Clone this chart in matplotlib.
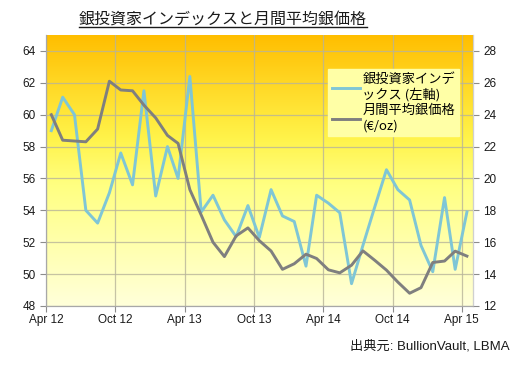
import numpy as np
import pandas as pd
import matplotlib
matplotlib.use("Agg")
import matplotlib.pyplot as plt
from matplotlib.colors import LinearSegmentedColormap

plt.rcParams['font.family'] = ['Liberation Sans', 'Noto Sans CJK JP', 'DejaVu Sans']

# monthly data, Apr 2012 - Apr 2015 (plotted mid-month)
months = pd.date_range('2012-04-01', periods=37, freq='MS') + pd.Timedelta(days=14)
index_vals = [59.0, 61.1, 60.0, 54.0, 53.2, 55.1, 57.6, 55.6, 61.5, 54.9,
              58.0, 56.0, 62.4, 53.9, 54.95, 53.4, 52.35, 54.3, 52.3, 55.3,
              53.65, 53.3, 50.5, 54.95, 54.45, 53.85, 49.4, 51.8, 54.2, 56.55,
              55.3, 54.65, 51.8, 50.15, 54.8, 50.3, 53.9]
price_vals = [24.0, 22.4, 22.35, 22.3, 23.1, 26.1, 25.55, 25.5, 24.6, 23.8,
              22.7, 22.2, 19.3, 17.7, 16.0, 15.1, 16.4, 16.9, 16.1, 15.45,
              14.3, 14.65, 15.25, 14.98, 14.27, 14.08, 14.56, 15.46, 14.87, 14.25,
              13.5, 12.8, 13.15, 14.73, 14.82, 15.44, 15.13]
tick_dates = pd.date_range('2012-04-01', '2015-04-01', freq='6MS')
tick_labels = ['Apr 12', 'Oct 12', 'Apr 13', 'Oct 13', 'Apr 14', 'Oct 14', 'Apr 15']
left_ticks = list(range(48, 65, 2))
right_ticks = list(range(12, 29, 2))

title = '銀投資家インデックスと月間平均銀価格'
label_index = '銀投資家インデ\nックス (左軸)'
label_price = '月間平均銀価格\n(€/oz)'
source = '出典元: BullionVault, LBMA'

fig = plt.figure(figsize=(5.2, 3.65), dpi=100)
ax = fig.add_axes([46 / 520, 1 - 306 / 365, 427 / 520, 271 / 365])
ax2 = ax.twinx()

# background gradient
cmap = LinearSegmentedColormap.from_list(
    'bg', [(0.0, '#FFFFDA'), (0.45, '#FFFF80'), (0.62, '#FFF34A'),
           (0.82, '#FFD825'), (1.0, '#FFBE00')])
grad = np.linspace(0, 1, 256).reshape(-1, 1)
ax.imshow(grad, cmap=cmap, aspect='auto', origin='lower',
          extent=[0, 1, 0, 1], transform=ax.transAxes, zorder=0)

ax.set_xlim(pd.Timestamp('2012-04-01'), pd.Timestamp('2015-05-01'))
ax.set_ylim(48, 65)
ax2.set_ylim(12, 29)

for t in left_ticks:
    ax.axhline(t, color='#B8B49A', lw=0.9, alpha=0.8, zorder=1)
for d in tick_dates:
    ax.axvline(d, color='#B8B49A', lw=0.9, alpha=0.8, zorder=1)

l1, = ax.plot(months, index_vals, color='#7FC6D6', lw=2.1, zorder=3)
l2, = ax2.plot(months, price_vals, color='#7F7F7F', lw=2.1, zorder=3)

ax.set_xticks(tick_dates)
ax.set_xticklabels(tick_labels)
ax.set_yticks(left_ticks)
ax2.set_yticks(right_ticks)

for a in (ax, ax2):
    a.tick_params(labelsize=8.5, colors='#8C8C8C', labelcolor='#1A1A1A',
                  length=4, width=0.8)
    for s in a.spines.values():
        s.set_color('#A8A8A8')
    a.spines['top'].set_visible(False)
ax2.spines['right'].set_color('#D0D0D0')
ax.tick_params(axis='x', pad=2)

leg = ax2.legend([l1, l2], [label_index, label_price],
                 loc='upper right', bbox_to_anchor=(0.983, 0.9),
                 handlelength=2.1, handletextpad=0.2,
                 borderpad=0.3, labelspacing=0.2, fancybox=False,
                 framealpha=1, prop={'family': ['Noto Sans CJK JP', 'DejaVu Sans'], 'size': 9.5})
leg.get_frame().set_facecolor('#FFFFA6')
leg.get_frame().set_edgecolor('#FFFFA6')

t = fig.text(223 / 520, 1 - 20 / 365, title, ha='center', va='center',
             fontsize=11.5, family=['Noto Sans CJK JP'], color='#1A1A1A')
fig.canvas.draw()
bb = t.get_window_extent().transformed(fig.transFigure.inverted())
fig.add_artist(plt.Line2D([bb.x0, bb.x1], [bb.y0 + 0.004, bb.y0 + 0.004],
                          color='#1A1A1A', lw=1.0, transform=fig.transFigure))

fig.text(510 / 520, 1 - 346 / 365, source, ha='right', va='center',
         fontsize=9.5, color='#1A1A1A')

fig.savefig('out.png', dpi=100, facecolor='white')
